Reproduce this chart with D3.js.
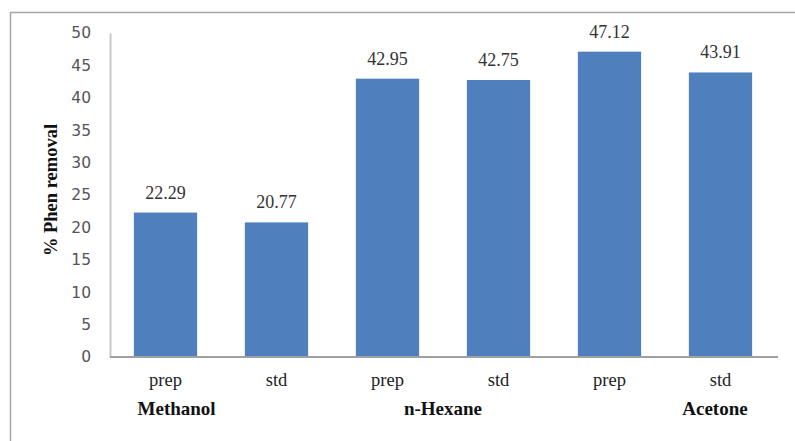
<!DOCTYPE html>
<html>
<head>
<meta charset="utf-8">
<script src="https://cdn.jsdelivr.net/npm/d3@7"></script>
<style>
  html, body { margin: 0; padding: 0; background: #fff; }
  svg { display: block; }
</style>
</head>
<body>
<svg id="chart" width="795" height="441"></svg>
<script>
// Phenanthrene removal by extract type and solvent
const categories = ["prep", "std", "prep", "std", "prep", "std"];
const values = [22.29, 20.77, 42.95, 42.75, 47.12, 43.91];
const groups = [
  { name: "Methanol", at: 0.1 },
  { name: "n-Hexane", at: 2.5 },
  { name: "Acetone", at: 4.95 }
];
const yTicks = [0, 5, 10, 15, 20, 25, 30, 35, 40, 45, 50];

const svg = d3.select("#chart");
const margin = { left: 110, right: 19, top: 33, bottom: 84 };
const W = 795, H = 441;
const serif = "'Liberation Serif', 'Times New Roman', serif";

// chart frame (left and top edges visible)
svg.append("path")
  .attr("d", `M10.5,${H} V12.5 H${W}`)
  .attr("fill", "none")
  .attr("stroke", "#a6a6a6")
  .attr("stroke-width", 1.5);

const x = d3.scaleBand()
  .domain(d3.range(values.length))
  .range([margin.left, W - margin.right])
  .paddingInner(0.43)
  .paddingOuter(0.215);

const y = d3.scaleLinear()
  .domain([0, 50])
  .range([H - margin.bottom, margin.top]);

// y axis
const yAxis = svg.append("g")
  .attr("transform", `translate(${margin.left},0)`)
  .call(d3.axisLeft(y).tickValues(yTicks).tickSize(0).tickPadding(19));
yAxis.select(".domain").attr("stroke", "#c8c8c8").attr("stroke-width", 2);
yAxis.selectAll("text")
  .attr("fill", "#555")
  .style("font-family", "'DejaVu Sans', Verdana, sans-serif")
  .style("font-size", "15.5px");

// bars
svg.append("g").selectAll("rect")
  .data(values)
  .join("rect")
  .attr("x", (d, i) => x(i))
  .attr("width", x.bandwidth())
  .attr("y", d => y(d))
  .attr("height", d => y(0) - y(d))
  .attr("fill", "#4f7fbc");

// value labels
svg.append("g").selectAll("text")
  .data(values)
  .join("text")
  .attr("x", (d, i) => x(i) + x.bandwidth() / 2)
  .attr("y", d => y(d) - 14)
  .attr("text-anchor", "middle")
  .attr("fill", "#333")
  .style("font-family", serif)
  .style("font-size", "18px")
  .text(d => d.toFixed(2));

// x axis baseline
svg.append("line")
  .attr("x1", margin.left).attr("x2", W - 17)
  .attr("y1", y(0)).attr("y2", y(0))
  .attr("stroke", "#a0a0a0")
  .attr("stroke-width", 2);

// category labels
svg.append("g").selectAll("text")
  .data(categories)
  .join("text")
  .attr("x", (d, i) => x(i) + x.bandwidth() / 2)
  .attr("y", y(0) + 29)
  .attr("text-anchor", "middle")
  .attr("fill", "#222")
  .style("font-family", serif)
  .style("font-size", "18.5px")
  .text(d => d);

// solvent group labels
svg.append("g").selectAll("text")
  .data(groups)
  .join("text")
  .attr("x", d => x(Math.floor(d.at)) + x.bandwidth() / 2 + (d.at % 1) * x.step())
  .attr("y", y(0) + 58)
  .attr("text-anchor", "middle")
  .attr("fill", "#111")
  .style("font-family", serif)
  .style("font-size", "19px")
  .style("font-weight", "bold")
  .text(d => d.name);

// y axis title
svg.append("text")
  .attr("transform", `translate(57,${(y(0) + y(50)) / 2 - 5}) rotate(-90)`)
  .attr("text-anchor", "middle")
  .attr("fill", "#111")
  .style("font-family", serif)
  .style("font-size", "18.5px")
  .style("font-weight", "bold")
  .text("% Phen removal");
</script>
</body>
</html>
